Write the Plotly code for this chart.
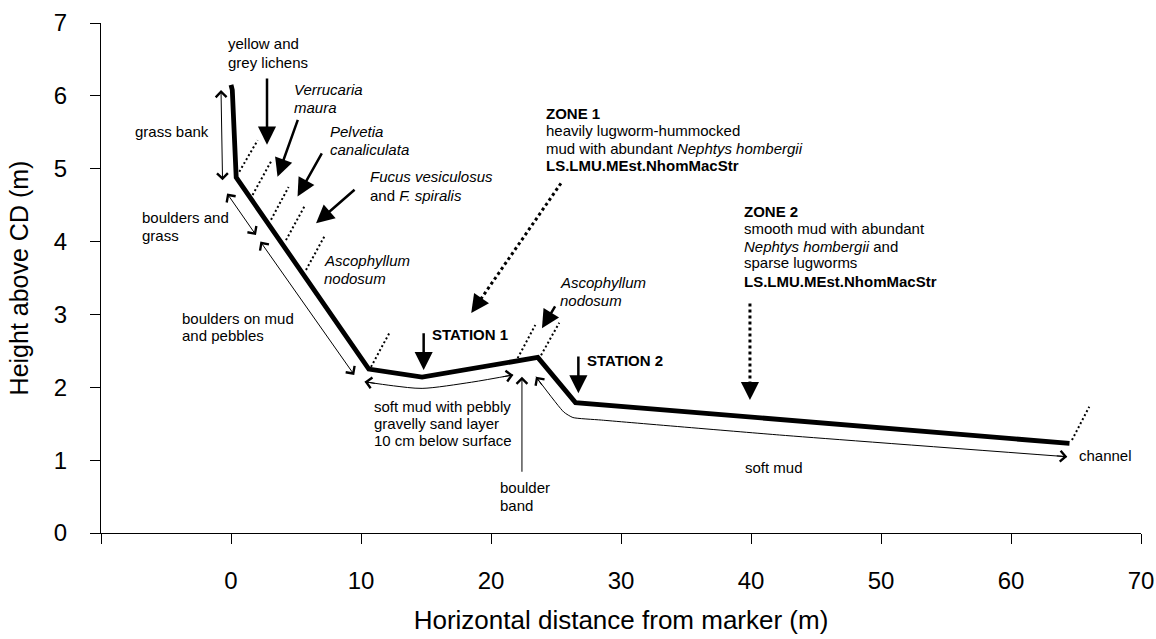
import plotly.graph_objects as go

# Shore profile: horizontal distance from the marker and height above chart datum
distance_m = [0.0, 0.1, 0.4, 10.6, 14.7, 23.6, 26.5, 64.5]
height_m = [6.15, 6.08, 4.88, 2.25, 2.14, 2.41, 1.79, 1.23]

# Axis ticks
x_ticks = [-10, 0, 10, 20, 30, 40, 50, 60, 70]
x_tick_labels = ["", "0", "10", "20", "30", "40", "50", "60", "70"]
y_ticks = [0, 1, 2, 3, 4, 5, 6, 7]

FONT = "Arial, 'Liberation Sans', sans-serif"
INK = "black"
BOLD_HEAD = 1.45
THIN_HEAD = 2.1

fig = go.Figure()

# main profile line
fig.add_trace(go.Scatter(
    x=distance_m, y=height_m, mode="lines",
    line=dict(color=INK, width=4.8), hoverinfo="skip", showlegend=False))

# thin guide lines running just below the profile
pebbly_x = [10.3, 12.5, 14.7, 18.5, 21.7]
pebbly_y = [2.075, 2.02, 1.985, 2.07, 2.17]
fig.add_trace(go.Scatter(
    x=pebbly_x, y=pebbly_y, mode="lines",
    line=dict(color=INK, width=1, shape="spline", smoothing=0.8),
    hoverinfo="skip", showlegend=False))

softmud_x = [23.46, 25.6, 26.3, 28.5, 42.2, 64.3]
softmud_y = [2.145, 1.66, 1.585, 1.55, 1.345, 1.047]
fig.add_trace(go.Scatter(
    x=softmud_x, y=softmud_y, mode="lines",
    line=dict(color=INK, width=1, shape="spline", smoothing=0.5),
    hoverinfo="skip", showlegend=False))

# dotted shafts of the zone pointers
fig.add_trace(go.Scatter(
    x=[25.38, 18.98], y=[4.80, 3.15], mode="lines",
    line=dict(color=INK, width=3, dash="dot"), hoverinfo="skip", showlegend=False))
fig.add_trace(go.Scatter(
    x=[39.92, 39.92], y=[3.15, 2.05], mode="lines",
    line=dict(color=INK, width=3, dash="dot"), hoverinfo="skip", showlegend=False))

# dotted zone boundaries crossing the profile
boundaries = [
    ((0.64, 4.96), (2.05, 5.39)),
    ((1.66, 4.64), (3.08, 5.10)),
    ((3.08, 4.30), (4.43, 4.75)),
    ((4.23, 4.02), (5.64, 4.48)),
    ((5.77, 3.61), (7.18, 4.07)),
    ((10.77, 2.28), (12.18, 2.745)),
    ((22.05, 2.40), (23.41, 2.855)),
    ((23.85, 2.44), (25.25, 2.886)),
    ((64.69, 1.276), (66.02, 1.733)),
]
shapes = []
for (x0, y0), (x1, y1) in boundaries:
    shapes.append(dict(type="line", xref="x", yref="y", x0=x0, y0=y0, x1=x1, y1=y1,
                       line=dict(color=INK, width=2, dash="2px,2.5px")))

annotations = []


def label(x, y, text, size=15):
    annotations.append(dict(
        x=x, y=y, xref="x", yref="y", text=text, showarrow=False,
        xanchor="left", yanchor="middle", borderpad=0,
        font=dict(family=FONT, size=size, color=INK)))


def bold_arrow(x0, y0, x1, y1):
    annotations.append(dict(
        x=x1, y=y1, ax=x0, ay=y0, xref="x", yref="y", axref="x", ayref="y",
        text="", showarrow=True, arrowhead=2, arrowsize=BOLD_HEAD, arrowwidth=2.5,
        arrowcolor=INK))


def thin_arrow(x0, y0, x1, y1, both=False):
    annotations.append(dict(
        x=x1, y=y1, ax=x0, ay=y0, xref="x", yref="y", axref="x", ayref="y",
        text="", showarrow=True, arrowhead=4, arrowsize=THIN_HEAD, arrowwidth=1,
        startarrowhead=4, startarrowsize=THIN_HEAD,
        arrowside="end+start" if both else "end", arrowcolor=INK))


def head(x, y, dx, dy, bold=False):
    # arrow head only, with its short tail offset in pixels
    annotations.append(dict(
        x=x, y=y, ax=dx, ay=dy, xref="x", yref="y",
        text="", showarrow=True,
        arrowhead=2 if bold else 4,
        arrowsize=BOLD_HEAD if bold else THIN_HEAD,
        arrowwidth=2.5 if bold else 1, arrowcolor=INK))


# bold pointers to the zonation bands and stations
bold_arrow(2.77, 6.26, 2.77, 5.33)
bold_arrow(5.18, 5.69, 3.58, 4.89)
bold_arrow(7.05, 5.23, 5.12, 4.62)
bold_arrow(9.62, 4.73, 6.54, 4.25)
bold_arrow(14.82, 2.763, 14.82, 2.237)
bold_arrow(25.0, 3.13, 23.92, 2.81)
bold_arrow(26.72, 2.443, 26.72, 1.917)

# heads of the dotted zone pointers
head(18.48, 3.02, 9, -13, bold=True)
head(39.92, 1.825, 0, -16, bold=True)

# thin extent arrows
thin_arrow(-0.77, 6.10, -0.65, 4.84, both=True)
thin_arrow(-0.38, 4.68, 1.92, 4.09, both=True)
thin_arrow(2.18, 4.02, 9.48, 2.17, both=True)
thin_arrow(22.38, 0.82, 22.38, 2.145)
head(10.27, 2.077, 12, 2)
head(21.72, 2.169, -12, 2)
head(23.46, 2.145, 7, 10)
head(64.33, 1.047, -12, -1)

# text labels
label(-0.31, 6.725, "yellow and")
label(-0.31, 6.464, "grey lichens")
label(4.74, 6.09, "<i>Verrucaria</i>")
label(4.74, 5.843, "<i>maura</i>")
label(7.56, 5.508, "<i>Pelvetia</i>")
label(7.56, 5.257, "<i>canaliculata</i>")
label(10.64, 4.89, "<i>Fucus vesiculosus</i>")
label(10.64, 4.639, "and <i>F. spiralis</i>")
label(7.05, 3.747, "<i>Ascophyllum</i>")
label(7.05, 3.496, "<i>nodosum</i>")
label(-7.44, 5.517, "grass bank")
label(-6.92, 4.333, "boulders and")
label(-6.92, 4.09, "grass")
label(-3.85, 2.947, "boulders on mud")
label(-3.85, 2.704, "and pebbles")
label(15.38, 2.718, "<b>STATION 1</b>")
label(25.25, 3.441, "<i>Ascophyllum</i>")
label(25.25, 3.198, "<i>nodosum</i>")
label(27.31, 2.365, "<b>STATION 2</b>")
label(10.89, 1.739, "soft mud with pebbly")
label(10.89, 1.499, "gravelly sand layer")
label(10.89, 1.263, "10 cm below surface")
label(20.64, 0.622, "boulder")
label(20.64, 0.375, "band")
label(24.15, 5.76, "<b>ZONE 1</b>")
label(24.15, 5.531, "heavily lugworm-hummocked")
label(24.15, 5.28, "mud with abundant <i>Nephtys hombergii</i>")
label(24.15, 5.041, "<b>LS.LMU.MEst.NhomMacStr</b>")
label(39.35, 4.41, "<b>ZONE 2</b>")
label(39.35, 4.182, "smooth mud with abundant")
label(39.35, 3.939, "<i>Nephtys hombergii</i> and")
label(39.35, 3.71, "sparse lugworms")
label(39.35, 3.449, "<b>LS.LMU.MEst.NhomMacStr</b>")
label(39.48, 0.902, "soft mud")
label(65.12, 1.057, "channel")

fig.update_layout(
    width=1156, height=639,
    margin=dict(l=101, r=15, t=23, b=106, autoexpand=False),
    paper_bgcolor="white", plot_bgcolor="white",
    font=dict(family=FONT, color=INK),
    showlegend=False,
    shapes=shapes,
    annotations=annotations,
    xaxis=dict(
        range=[-10, 70], tickvals=x_ticks, ticktext=x_tick_labels,
        showgrid=False, zeroline=False, showline=True, linecolor=INK, linewidth=1,
        ticks="outside", ticklen=10, tickcolor=INK, tickwidth=1,
        ticklabelstandoff=16, tickfont=dict(size=24, color=INK),
        title=dict(text="Horizontal distance from marker (m)",
                   font=dict(size=26, color=INK), standoff=18),
        automargin=False, fixedrange=True),
    yaxis=dict(
        range=[0, 7], tickvals=y_ticks,
        showgrid=False, zeroline=False, showline=True, linecolor=INK, linewidth=1,
        ticks="outside", ticklen=10, tickcolor=INK, tickwidth=1,
        ticklabelstandoff=18, tickfont=dict(size=24, color=INK),
        title=dict(text="Height above CD (m)", font=dict(size=25, color=INK), standoff=18),
        automargin=False, fixedrange=True),
)

fig.write_html("out.html")
